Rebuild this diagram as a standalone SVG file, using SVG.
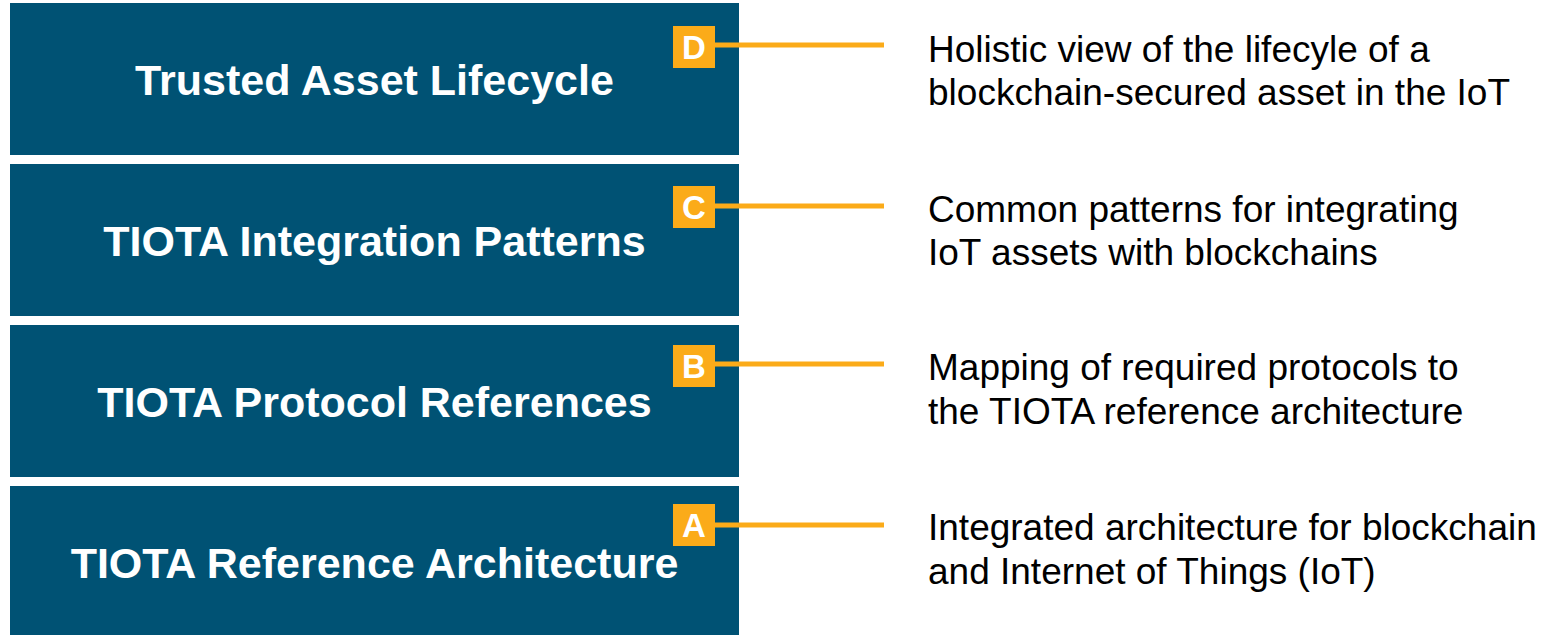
<svg xmlns="http://www.w3.org/2000/svg" width="1551" height="635" viewBox="0 0 1551 635">
<style>
.box{fill:#005274}
.title{font-family:"Liberation Sans",Arial,sans-serif;font-weight:bold;font-size:43px;fill:#ffffff;text-anchor:middle}
.badge{fill:#fbab19}
.bl{font-family:"Liberation Sans",Arial,sans-serif;font-weight:bold;font-size:33px;fill:#ffffff;text-anchor:middle}
.desc{font-family:"Liberation Sans",Arial,sans-serif;font-size:37px;fill:#000000}
.conn{stroke:#fbab19;stroke-width:5;fill:none}
</style>
<rect width="1551" height="635" fill="#ffffff"/>
<g id="node-D">
<rect class="box" x="10" y="3" width="729" height="152"/>
<text class="title" x="374.5" y="95">Trusted Asset Lifecycle</text>
<rect class="badge" x="673" y="26" width="42" height="42"/>
<text class="bl" x="694" y="59">D</text>
<text class="desc" x="928" y="62">Holistic view of the lifecyle of a</text>
<text class="desc" x="928" y="105">blockchain-secured asset in the IoT</text>
</g>
<g id="node-C">
<rect class="box" x="10" y="164" width="729" height="152"/>
<text class="title" x="374.5" y="256">TIOTA Integration Patterns</text>
<rect class="badge" x="673" y="186" width="42" height="42"/>
<text class="bl" x="694" y="219">C</text>
<text class="desc" x="928" y="222">Common patterns for integrating</text>
<text class="desc" x="928" y="265">IoT assets with blockchains</text>
</g>
<g id="node-B">
<rect class="box" x="10" y="325" width="729" height="152"/>
<text class="title" x="374.5" y="417">TIOTA Protocol References</text>
<rect class="badge" x="673" y="345" width="42" height="42"/>
<text class="bl" x="694" y="378">B</text>
<text class="desc" x="928" y="380">Mapping of required protocols to</text>
<text class="desc" x="928" y="424">the TIOTA reference architecture</text>
</g>
<g id="node-A">
<rect class="box" x="10" y="486" width="729" height="149"/>
<text class="title" x="374.5" y="578">TIOTA Reference Architecture</text>
<rect class="badge" x="673" y="504" width="42" height="42"/>
<text class="bl" x="694" y="537">A</text>
<text class="desc" x="928" y="540">Integrated architecture for blockchain</text>
<text class="desc" x="928" y="584">and Internet of Things (IoT)</text>
</g>
<g id="connectors">
<line class="conn" x1="715" y1="45" x2="884" y2="45"/>
<line class="conn" x1="715" y1="206" x2="884" y2="206"/>
<line class="conn" x1="715" y1="364" x2="884" y2="364"/>
<line class="conn" x1="715" y1="525" x2="884" y2="525"/>
</g>
</svg>
